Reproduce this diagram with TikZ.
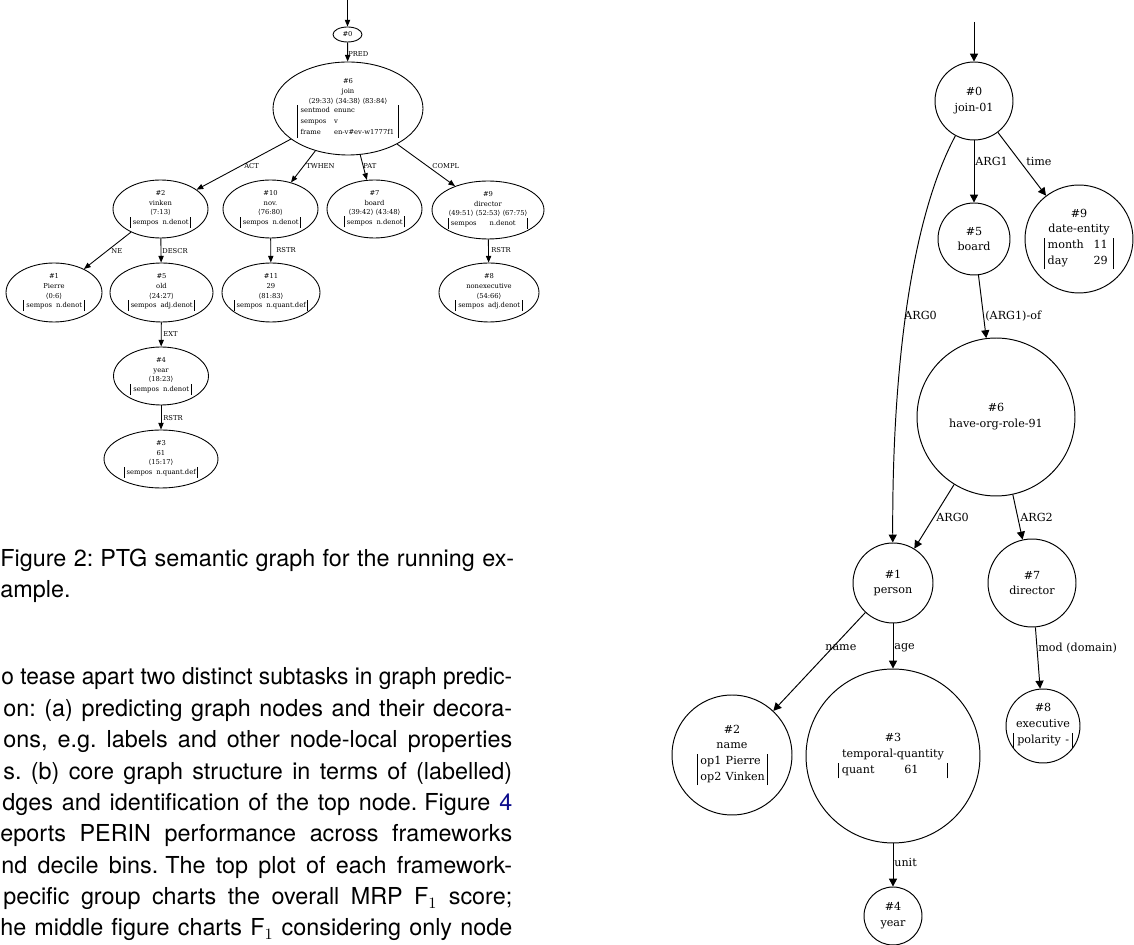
\documentclass[tikz,border=0pt]{standalone}
\usepackage{fontspec}
\usepackage{graphicx}
\setmainfont{TeX Gyre Heros}
\newfontfamily\gfont{DejaVu Serif}
\newfontfamily\angfont{DejaVu Sans}
\usetikzlibrary{arrows.meta,shapes.geometric}
\definecolor{linkblue}{rgb}{0.05,0.05,0.55}
\setlength{\arrayrulewidth}{0.5pt}
\newcommand{\ptgfont}{\gfont\fontsize{3.85}{5.45}\selectfont\renewcommand\arraystretch{1.15}}
\newcommand{\amrfont}{\gfont\fontsize{6.35}{9}\selectfont\renewcommand\arraystretch{1}}
\newcommand{\anc}[1]{{\angfont\char"27E8}#1{\angfont\char"27E9}}
\newcommand{\sem}[3][2.3pt]{\begin{tabular}[t]{|@{\hspace{1.2pt}}l@{\hspace{#1}}l@{\hspace{#3}}|}sempos & #2\end{tabular}}
\newcommand{\xsp}{\hspace{0.3em}}
\newsavebox\linebox
\newcommand{\fitline}[2]{\sbox\linebox{#2}\ifdim\wd\linebox>#1\relax\resizebox{#1}{\height}{\usebox\linebox}\else\makebox[#1][s]{#2}\fi}
\tikzset{
  ptg/.style={ellipse, draw, line width=0.5pt, inner xsep=-4pt, inner ysep=0pt, align=center, font=\ptgfont},
  amr/.style={circle, draw, line width=0.55pt, inner sep=0pt, align=center, font=\amrfont},
  pedge/.style={line width=0.5pt, -{Triangle[length=3.8pt,width=3pt]}},
  aedge/.style={line width=0.55pt, -{Triangle[length=4.5pt,width=4.6pt]}},
  plbl/.style={anchor=west, inner sep=0pt, font=\ptgfont},
  albl/.style={anchor=west, inner sep=0pt, font=\amrfont},
  body/.style={anchor=base west, inner sep=0pt, font=\fontsize{13.3}{15.5}\selectfont\frenchspacing},
}
\begin{document}
\begin{tikzpicture}[x=0.02cm, y=-0.02cm]
\useasboundingbox (0,0) rectangle (1134,945);

% ---------- PTG graph (left) ----------
\coordinate (top1) at (347.5,0);
\node[ptg, minimum width=0.58cm, minimum height=0.30cm] (p0) at (347.5,34.5) {\#0};
\node[ptg, minimum width=3.0cm, minimum height=1.86cm] (p6) at (348,108.5)
  {\#6\\join\\\anc{29:33} \anc{34:38} \anc{83:84}\\\begin{tabular}[t]{|@{\hspace{1.4pt}}l@{\hspace{2.3pt}}l@{\hspace{2.3pt}}|}sentmod & enunc\\ sempos & v\\ frame & en-v\#ev-w1777f1\end{tabular}};
\node[ptg, minimum width=1.90cm, minimum height=1.16cm] (p2) at (160.5,209) {\#2\\vinken\\\anc{7:13}\\\sem{n.denot}{1.2pt}};
\node[ptg, minimum width=1.90cm, minimum height=1.16cm] (p10) at (270.5,209) {\#10\\nov.\\\anc{76:80}\\\sem{n.denot}{1.2pt}};
\node[ptg, minimum width=1.90cm, minimum height=1.16cm] (p7) at (374.5,209) {\#7\\board\\\anc{39:42} \anc{43:48}\\\sem{n.denot}{1.2pt}};
\node[ptg, minimum width=2.24cm, minimum height=1.16cm] (p9) at (488,210) {\#9\\director\\\anc{49:51} \anc{52:53} \anc{67:75}\\\sem[7.4pt]{n.denot}{6.8pt}};
\node[ptg, minimum width=1.92cm, minimum height=1.18cm] (p1) at (54,292.5) {\#1\\Pierre\\\anc{0:6}\\\sem{n.denot}{1.2pt}};
\node[ptg, minimum width=2.06cm, minimum height=1.18cm] (p5) at (161.5,292.5) {\#5\\old\\\anc{24:27}\\\sem{adj.denot}{1.2pt}};
\node[ptg, minimum width=1.96cm, minimum height=1.18cm] (p11) at (271,292.5) {\#11\\29\\\anc{81:83}\\\sem{n.quant.def}{1.2pt}};
\node[ptg, minimum width=2.0cm, minimum height=1.18cm] (p8) at (489,292.5) {\#8\\nonexecutive\\\anc{54:66}\\\sem{adj.denot}{1.2pt}};
\node[ptg, minimum width=1.90cm, minimum height=1.16cm] (p4) at (161,376) {\#4\\year\\\anc{18:23}\\\sem{n.denot}{1.2pt}};
\node[ptg, minimum width=2.28cm, minimum height=1.16cm] (p3) at (161,459) {\#3\\61\\\anc{15:17}\\\sem{n.quant.def}{1.2pt}};

\draw[pedge] (top1) -- (p0);
\draw[pedge] (p0) -- (p6);
\draw[pedge] (p6) -- (p2);
\draw[pedge] (p6) -- (p10);
\draw[pedge] (p6) -- (p7);
\draw[pedge] (p6) -- (p9);
\draw[pedge] (p2) -- (p1);
\draw[pedge] (p2) -- (p5);
\draw[pedge] (p10) -- (p11);
\draw[pedge] (p9) -- (p8);
\draw[pedge] (p5) -- (p4);
\draw[pedge] (p4) -- (p3);

\node[plbl] (lpred) at (348,54) {PRED};
\node[plbl] (lact) at (244,166) {ACT};
\node[plbl] (ltwhen) at (306,166) {TWHEN};
\node[plbl] (lpat) at (363,166) {PAT};
\node[plbl] (lcompl) at (432,166) {COMPL};
\node[plbl] (lne) at (111,251) {NE};
\node[plbl] (ldescr) at (162,251) {DESCR};
\node[plbl] (lrstra) at (276,250) {RSTR};
\node[plbl] (lrstrb) at (491,250) {RSTR};
\node[plbl] (lext) at (163,334) {EXT};
\node[plbl] (lrstrc) at (163,418) {RSTR};

% ---------- caption and body text ----------
\node[body] (cap1) at (0,566.5) {\fitline{10.28cm}{Figure 2:\xsp PTG semantic graph for the running ex-}};
\node[body] (cap2) at (0,598) {ample.};
\node[body] (t1) at (1,685) {\fitline{10.22cm}{o tease apart two distinct subtasks in graph predic-}};
\node[body] (t2) at (3,716.4) {\fitline{10.18cm}{on: (a) predicting graph nodes and their decora-}};
\node[body] (t3) at (3,747.8) {\fitline{10.18cm}{ons, e.g. labels and other node-local properties}};
\node[body] (t4) at (3,779.1) {\fitline{10.18cm}{s. (b) core graph structure in terms of (labelled)}};
\node[body] (t5) at (2,810.5) {\fitline{10.20cm}{dges and identification of the top node.\xsp Figure \textcolor{linkblue}{4}}};
\node[body] (t6) at (0,841.9) {\fitline{10.24cm}{eports PERIN performance across frameworks}};
\node[body] (t7) at (1,873.3) {\fitline{10.22cm}{nd decile bins.\xsp The top plot of each framework-}};
\node[body] (t8) at (3,904.6) {\fitline{10.18cm}{pecific group charts the overall MRP F$_1$ score;}};
\node[body] (t9) at (0,936) {\fitline{10.24cm}{he middle figure charts F$_1$ considering only node}};

% ---------- AMR graph (right) ----------
\coordinate (top2) at (974,22);
\node[amr, minimum size=1.56cm] (a0) at (974,101) {\#0\\join-01};
\node[amr, minimum size=1.44cm] (a5) at (974,239) {\#5\\board};
\node[amr, minimum size=2.16cm] (a9) at (1079,239) {\#9\\date-entity\\\begin{tabular}[t]{|@{\hspace{1.7pt}}l@{\hspace{5.5pt}}l@{\hspace{3.4pt}}|}month & 11\\ day & 29\end{tabular}};
\node[amr, minimum size=3.16cm] (a6) at (996,417) {\#6\\have-org-role-91};
\node[amr, minimum size=1.60cm] (a1) at (893,583) {\#1\\person};
\node[amr, minimum size=1.76cm] (a7) at (1032,583) {\#7\\director};
\node[amr, minimum size=2.40cm] (a2) at (732,755) {\#2\\name\\\begin{tabular}[t]{|@{\hspace{1.7pt}}l@{\hspace{2.5pt}}l@{\hspace{1.2pt}}|}op1 & Pierre\\ op2 & Vinken\end{tabular}};
\node[amr, minimum size=3.48cm] (a3) at (893,756) {\#3\\temporal-quantity\\\begin{tabular}[t]{|@{\hspace{1.7pt}}l@{\hspace{17pt}}l@{\hspace{16.5pt}}|}quant & 61\end{tabular}};
\node[amr, minimum size=1.48cm] (a8) at (1043,726) {\#8\\executive\\\begin{tabular}[t]{|@{\hspace{1.7pt}}l@{\hspace{2.5pt}}l@{\hspace{1.7pt}}|}polarity & -\end{tabular}};
\node[amr, minimum size=1.16cm] (a4) at (893,916) {\#4\\year};

\draw[aedge] (top2) -- (a0);
\draw[aedge] (a0) -- (a5);
\draw[aedge] (a0) -- (a9);
\draw[aedge] (a0) .. controls (905,230) and (892,400) .. (a1);
\draw[aedge] (a5) -- (a6);
\draw[aedge] (a6) -- (a1);
\draw[aedge] (a6) -- (a7);
\draw[aedge] (a1) -- (a2);
\draw[aedge] (a1) -- (a3);
\draw[aedge] (a7) -- (a8);
\draw[aedge] (a3) -- (a4);

\node[albl] (larg1) at (975,161) {ARG1};
\node[albl] (ltime) at (1026,161) {time};
\node[albl] (larg0a) at (904,315) {ARG0};
\node[albl] (largof) at (985,316) {(ARG1)-of};
\node[albl] (larg0b) at (936,517) {ARG0};
\node[albl] (larg2) at (1020,517) {ARG2};
\node[albl] (lname) at (825,648) {name};
\node[albl] (lage) at (894,648) {age};
\node[albl] (lmod) at (1038,648) {mod (domain)};
\node[albl] (lunit) at (894,862) {unit};
\end{tikzpicture}
\end{document}
